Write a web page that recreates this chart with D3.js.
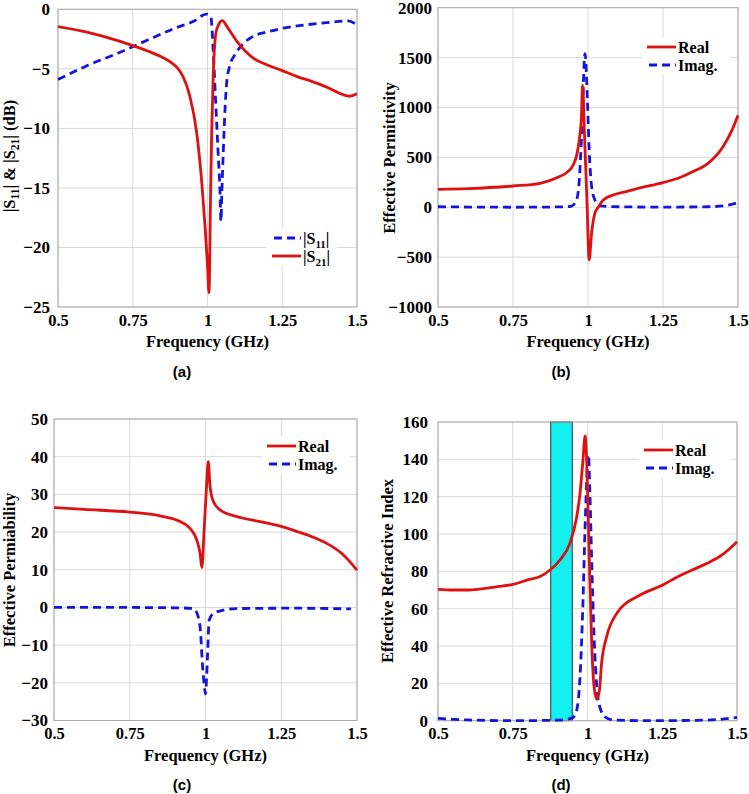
<!DOCTYPE html>
<html>
<head>
<meta charset="utf-8">
<script src="https://cdn.jsdelivr.net/npm/d3@7"></script>
<style>
  body { margin: 0; background: #fff; }
  svg text { font-family: "Liberation Serif", "Times New Roman", serif; font-weight: bold; fill: #000; }
  svg text.caption { font-family: "Liberation Sans", Arial, sans-serif; }
</style>
</head>
<body>
<svg id="fig" width="749" height="794"></svg>
<script>
// shared x axis
const xTicks = [0.5, 0.75, 1, 1.25, 1.5];
const xTickLabels = ["0.5", "0.75", "1", "1.25", "1.5"];

// (a) |S11| and |S21| in dB
const s11Freq = [0.5, 0.6, 0.7, 0.8, 0.9, 0.95, 0.997, 1.011, 1.019, 1.027, 1.035, 1.042, 1.045, 1.048, 1.053, 1.059, 1.064, 1.075, 1.092, 1.121, 1.15, 1.2, 1.25, 1.3, 1.4, 1.47, 1.5];
const s11Db = [-5.9, -4.7, -3.69, -2.58, -1.5, -1.05, -0.4, -0.6, -3.4, -7.6, -11.8, -15.4, -17.8, -15.4, -11.8, -8.2, -6.2, -4.7, -3.8, -2.85, -2.3, -1.9, -1.6, -1.4, -1.12, -0.98, -1.3];
const s21Freq = [0.5, 0.6, 0.7, 0.75, 0.8, 0.85, 0.88, 0.9, 0.92, 0.941, 0.964, 0.981, 0.992, 1.0, 1.005, 1.01, 1.014, 1.019, 1.028, 1.039, 1.049, 1.069, 1.103, 1.153, 1.2, 1.25, 1.3, 1.35, 1.4, 1.45, 1.475, 1.5];
const s21Db = [-1.45, -1.93, -2.63, -3.05, -3.5, -4.05, -4.5, -4.95, -5.75, -7.3, -10.4, -14.6, -18.3, -21.5, -23.8, -16, -10.4, -5.7, -2.0, -1.2, -0.95, -1.6, -2.85, -4.1, -4.67, -5.15, -5.65, -6.07, -6.55, -7.13, -7.3, -7.1];

// (b) effective permittivity
const epsReFreq = [0.5, 0.6, 0.75, 0.84, 0.9, 0.93, 0.95, 0.963, 0.972, 0.978, 0.982, 0.989, 0.996, 1.004, 1.012, 1.023, 1.034, 1.051, 1.084, 1.13, 1.173, 1.25, 1.3, 1.35, 1.4, 1.45, 1.48, 1.5];
const epsRe = [180, 187, 213, 240, 300, 350, 420, 530, 700, 900, 1223, 667, 110, -527, -260, -60, 0, 73, 123, 160, 193, 247, 290, 357, 440, 607, 773, 923];
const epsImFreq = [0.5, 0.6, 0.75, 0.9, 0.944, 0.962, 0.971, 0.979, 0.99, 0.998, 1.004, 1.012, 1.023, 1.04, 1.1, 1.2, 1.3, 1.4, 1.45, 1.5];
const epsIm = [5, 2, 0, 3, 10, 73, 273, 740, 1540, 1073, 573, 207, 73, 13, 5, 2, 2, 5, 13, 47];

// (c) effective permeability
const muReFreq = [0.5, 0.6, 0.75, 0.85, 0.916, 0.949, 0.971, 0.982, 0.988, 0.996, 1.004, 1.009, 1.015, 1.026, 1.048, 1.1, 1.18, 1.25, 1.3, 1.35, 1.4, 1.45, 1.5];
const muRe = [26.5, 26.0, 25.3, 24.3, 22.8, 21.0, 17.9, 14.4, 10.6, 21.4, 33, 38.7, 32.1, 28.1, 25.9, 24.2, 22.8, 21.5, 20.2, 18.8, 17.0, 14.3, 9.9];
const muImFreq = [0.5, 0.7, 0.9, 0.96, 0.976, 0.984, 0.989, 0.995, 1.0, 1.004, 1.007, 1.012, 1.026, 1.059, 1.1, 1.3, 1.48];
const muIm = [0, 0, -0.1, -0.3, -2.5, -6.9, -14, -20, -22.9, -18, -12.2, -3.4, -1.6, -0.7, -0.3, -0.2, -0.4];

// (d) effective refractive index
const nReFreq = [0.5, 0.55, 0.6, 0.7, 0.75, 0.8, 0.841, 0.875, 0.908, 0.941, 0.964, 0.975, 0.984, 0.992, 0.999, 1.006, 1.014, 1.022, 1.031, 1.04, 1.047, 1.064, 1.098, 1.176, 1.25, 1.3, 1.35, 1.4, 1.45, 1.5];
const nRe = [70.4, 70.0, 70.0, 71.8, 73.0, 75.4, 77.2, 80.7, 86.1, 95, 109.3, 121.8, 137.9, 152.5, 130.7, 86, 41.5, 18.2, 11.5, 16.4, 30.7, 45, 57.5, 67.3, 72.5, 77, 80.7, 84.3, 88.8, 95.9];
const nImFreq = [0.5, 0.6, 0.75, 0.9, 0.95, 0.964, 0.975, 0.984, 0.992, 1.003, 1.008, 1.014, 1.022, 1.031, 1.041, 1.058, 1.086, 1.2, 1.4, 1.5];
const nIm = [1.3, 0.4, 0, 0.3, 1.5, 5.7, 23.6, 59.3, 104, 142.4, 121.8, 86, 45, 18.2, 7.5, 2.1, 0.4, 0, 0.3, 1.8];
const nBand = [0.877, 0.949];

const red = "#dd1111", blue = "#1414dc";
const svg = d3.select("#fig");

function drawPanel(p) {
    const g = svg.append("g");
    const x = d3.scaleLinear().domain([0.5, 1.5]).range([p.left, p.right]);
    const y = d3.scaleLinear().domain(p.yDomain).range([p.bottom, p.top]);

    g.selectAll(".vgrid").data(xTicks).enter().append("line")
        .attr("x1", d => x(d)).attr("x2", d => x(d))
        .attr("y1", p.top).attr("y2", p.bottom)
        .attr("stroke", "#d9d9d9").attr("stroke-width", 1);
    g.selectAll(".hgrid").data(p.yTicks).enter().append("line")
        .attr("x1", p.left).attr("x2", p.right)
        .attr("y1", d => y(d)).attr("y2", d => y(d))
        .attr("stroke", "#d9d9d9").attr("stroke-width", 1);

    if (p.band) {
        g.append("rect")
            .attr("x", x(p.band[0])).attr("width", x(p.band[1]) - x(p.band[0]))
            .attr("y", y(p.yDomain[1])).attr("height", y(p.yDomain[0]) - y(p.yDomain[1]))
            .attr("fill", "#14f0f0").attr("stroke", "#333").attr("stroke-width", 1);
    }

    g.append("rect")
        .attr("x", p.left).attr("y", p.top)
        .attr("width", p.right - p.left).attr("height", p.bottom - p.top)
        .attr("fill", "none").attr("stroke", "#a8a8a8").attr("stroke-width", 1);

    const line = d3.line().x(d => x(d[0])).y(d => y(d[1])).curve(d3.curveMonotoneX);
    p.series.forEach(s => {
        g.append("path")
            .datum(d3.zip(s.f, s.v))
            .attr("d", line)
            .attr("fill", "none")
            .attr("stroke", s.color)
            .attr("stroke-width", 2.8)
            .attr("stroke-linejoin", "round")
            .attr("stroke-dasharray", s.dashed ? "8,5" : null);
    });

    const xAxis = g.append("g")
        .attr("transform", `translate(0,${p.bottom})`)
        .call(d3.axisBottom(x).tickValues(xTicks).tickFormat((d, i) => xTickLabels[i]).tickSize(0).tickPadding(7));
    const yAxis = g.append("g")
        .attr("transform", `translate(${p.left},0)`)
        .call(d3.axisLeft(y).tickValues(p.yTicks).tickFormat(d3.format("d")).tickSize(0).tickPadding(p.yPad));
    xAxis.attr("font-size", 16.5);
    yAxis.attr("font-size", 17);
    [xAxis, yAxis].forEach(a => {
        a.select(".domain").remove();
        a.attr("font-family", null);
        a.selectAll("text").attr("fill", "#000");
    });

    g.append("text")
        .attr("x", (p.left + p.right) / 2).attr("y", p.bottom + 40)
        .attr("text-anchor", "middle").attr("font-size", 16.5)
        .text("Frequency (GHz)");

    const yt = g.append("text")
        .attr("transform", `translate(${p.titleX},${p.titleY}) rotate(-90)`)
        .attr("text-anchor", "middle").attr("font-size", 16.5);
    p.yTitle.forEach(part => {
        yt.append("tspan").attr("dy", part.dy || 0)
            .attr("font-size", part.sub ? 11.5 : 16.5).text(part.t);
    });

    // legend
    const lg = g.append("g");
    lg.append("rect")
        .attr("x", p.legend.x - 5).attr("y", p.legend.y - 10)
        .attr("width", p.legend.w).attr("height", 38)
        .attr("fill", "#fff");
    p.legend.items.forEach((it, i) => {
        const ly = p.legend.y + i * 18;
        lg.append("line")
            .attr("x1", p.legend.x).attr("x2", p.legend.x + 29)
            .attr("y1", ly).attr("y2", ly)
            .attr("stroke", it.color).attr("stroke-width", 2.8)
            .attr("stroke-dasharray", it.dashed ? "8,5" : null)
            .attr("stroke-dashoffset", it.dashed ? -2 : null);
        const t = lg.append("text")
            .attr("x", p.legend.x + 31).attr("y", ly + 5.5)
            .attr("font-size", 16);
        it.label.forEach(part => {
            t.append("tspan").attr("dy", part.dy || 0)
                .attr("font-size", part.sub ? 11 : 16).text(part.t);
        });
    });

    g.append("text")
        .attr("class", "caption")
        .attr("x", p.capX).attr("y", p.capY)
        .attr("text-anchor", "middle").attr("font-size", 15)
        .text(p.caption);
}

const reImLegend = [
    { color: red, dashed: false, label: [{ t: "Real" }] },
    { color: blue, dashed: true, label: [{ t: "Imag." }] }
];

drawPanel({
    left: 58, right: 357, top: 9.3, bottom: 307,
    yDomain: [-25, 0], yTicks: [-25, -20, -15, -10, -5, 0], yPad: 8,
    series: [
        { f: s11Freq, v: s11Db, color: blue, dashed: true },
        { f: s21Freq, v: s21Db, color: red, dashed: false }
    ],
    titleX: 15, titleY: 156,
    yTitle: [{ t: "|S" }, { t: "11", sub: true, dy: 4 }, { t: "| & |S", dy: -4 }, { t: "21", sub: true, dy: 4 }, { t: "| (dB)", dy: -4 }],
    legend: { x: 272, y: 238, w: 70, items: [
        { color: blue, dashed: true, label: [{ t: "|S" }, { t: "11", sub: true, dy: 4 }, { t: "|", dy: -4 }] },
        { color: red, dashed: false, label: [{ t: "|S" }, { t: "21", sub: true, dy: 4 }, { t: "|", dy: -4 }] }
    ] },
    caption: "(a)", capX: 182, capY: 377
});

drawPanel({
    left: 438, right: 738, top: 7.7, bottom: 307,
    yDomain: [-1000, 2000], yTicks: [-1000, -500, 0, 500, 1000, 1500, 2000], yPad: 6,
    series: [
        { f: epsImFreq, v: epsIm, color: blue, dashed: true },
        { f: epsReFreq, v: epsRe, color: red, dashed: false }
    ],
    titleX: 395, titleY: 158,
    yTitle: [{ t: "Effective Permittivity" }],
    legend: { x: 647, y: 47, w: 88, items: reImLegend },
    caption: "(b)", capX: 561, capY: 377
});

drawPanel({
    left: 54, right: 357, top: 419, bottom: 720.5,
    yDomain: [-30, 50], yTicks: [-30, -20, -10, 0, 10, 20, 30, 40, 50], yPad: 6,
    series: [
        { f: muImFreq, v: muIm, color: blue, dashed: true },
        { f: muReFreq, v: muRe, color: red, dashed: false }
    ],
    titleX: 15, titleY: 570,
    yTitle: [{ t: "Effective Permiability" }],
    legend: { x: 267, y: 446, w: 88, items: reImLegend },
    caption: "(c)", capX: 182, capY: 790
});

drawPanel({
    left: 438, right: 737, top: 422, bottom: 720.7,
    yDomain: [0, 160], yTicks: [0, 20, 40, 60, 80, 100, 120, 140, 160], yPad: 10,
    band: nBand,
    series: [
        { f: nImFreq, v: nIm, color: blue, dashed: true },
        { f: nReFreq, v: nRe, color: red, dashed: false }
    ],
    titleX: 393, titleY: 571,
    yTitle: [{ t: "Effective Refractive Index" }],
    legend: { x: 644, y: 450, w: 92, items: reImLegend },
    caption: "(d)", capX: 561, capY: 790
});
</script>
</body>
</html>
